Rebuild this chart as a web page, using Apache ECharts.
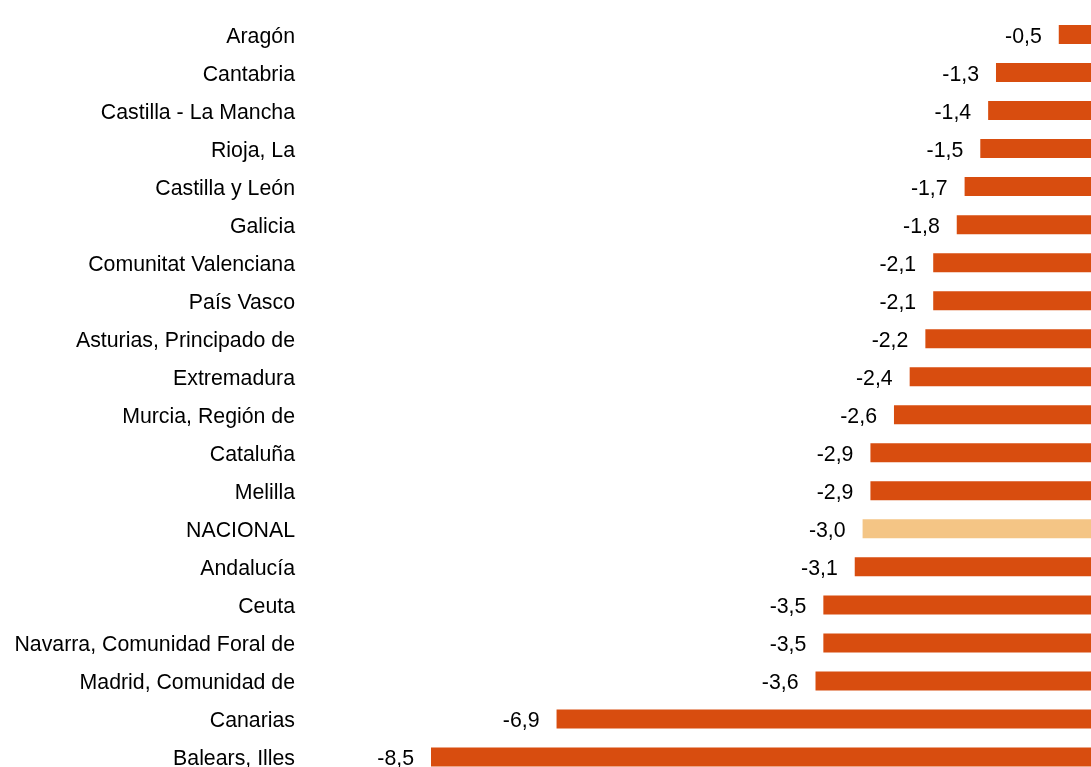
<!DOCTYPE html>
<html>
<head>
<meta charset="utf-8">
<script src="https://cdn.jsdelivr.net/npm/echarts@6/dist/echarts.min.js"></script>
<style>
html,body{margin:0;padding:0;background:#fff;overflow:hidden;width:1091px;height:767px;}
#chart{width:1098px;height:776px;}
</style>
</head>
<body>
<div id="chart"></div>
<script>
const categories = ["Aragón","Cantabria","Castilla - La Mancha","Rioja, La","Castilla y León","Galicia","Comunitat Valenciana","País Vasco","Asturias, Principado de","Extremadura","Murcia, Región de","Cataluña","Melilla","NACIONAL","Andalucía","Ceuta","Navarra, Comunidad Foral de","Madrid, Comunidad de","Canarias","Balears, Illes"];
const values = [-0.5,-1.3,-1.4,-1.5,-1.7,-1.8,-2.1,-2.1,-2.2,-2.4,-2.6,-2.9,-2.9,-3.0,-3.1,-3.5,-3.5,-3.6,-6.9,-8.5];
const highlight = "NACIONAL";
const mainColor = "#D84D0F";
const highlightColor = "#F4C585";

const chart = echarts.init(document.getElementById('chart'), null, {renderer:'canvas'});
chart.setOption({
  animation: false,
  grid: {left: 431, right: 0, top: 15.5, bottom: 0, containLabel: false},
  xAxis: {type:'value', min:-8.5, max:0, show:false},
  yAxis: {
    type:'category', data: categories, inverse: true,
    axisLine:{show:false, onZero:false}, axisTick:{show:false},
    axisLabel:{margin:136, color:'#000',
      formatter: v => '{a|' + v + '}',
      rich:{a:{fontFamily:'Liberation Sans, Arial, sans-serif', fontSize:21.3, color:'#000', padding:[5,0,0,0]}}}
  },
  series: [{
    type:'bar', barWidth:19,
    data: values.map((v,i)=>({value:v, itemStyle:{color: categories[i]===highlight ? highlightColor : mainColor}})),
    label:{show:true, position:'left', distance:17, offset:[0,2.5], color:'#000', fontFamily:'Liberation Sans, Arial, sans-serif', fontSize:21.3,
      formatter: p => p.value.toFixed(1).replace('.', ',')}
  }]
});
</script>
</body>
</html>
